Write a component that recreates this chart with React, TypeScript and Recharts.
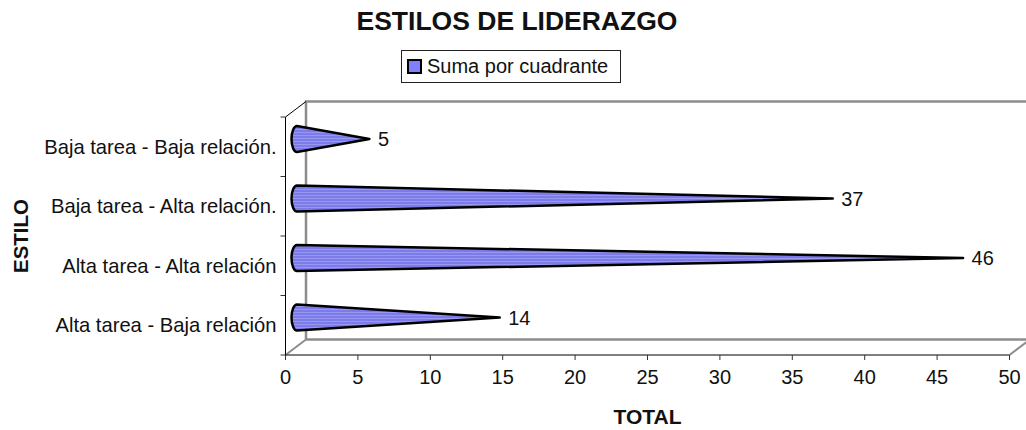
import { Bar, BarChart, LabelList, Legend, XAxis, YAxis, usePlotArea } from 'recharts'

const categories = [
  'Baja tarea - Baja relación.',
  'Baja tarea - Alta relación.',
  'Alta tarea - Alta relación',
  'Alta tarea - Baja relación',
]
const totals = [5, 37, 46, 14]
const xTicks = [0, 5, 10, 15, 20, 25, 30, 35, 40, 45, 50]
const seriesName = 'Suma por cuadrante'

const chartData = categories.map((estilo, i) => ({ estilo, total: totals[i] }))

const FONT = '"Liberation Sans", Arial, sans-serif'
const TEXT = '#111'
const DEPTH_X = 20.5
const DEPTH_Y = 15.5
// bars sit in the middle of the fake 3D depth
const BAR_DX = 11.5
const BAR_DY = -8

/** Back wall, floor and the y tick marks of the old Excel 3D look. */
function Frame() {
  const plot = usePlotArea()
  if (!plot) return null
  const { x, y, width, height } = plot
  const right = x + width
  const bottom = y + height
  const step = height / categories.length
  return (
    <g fill="none">
      <g stroke="#8c8c8c" strokeWidth={2.5}>
        <path d={`M${x + DEPTH_X} ${bottom - DEPTH_Y}V${y - DEPTH_Y}H${right + DEPTH_X}`} />
        <path d={`M${x + DEPTH_X} ${bottom - DEPTH_Y}H${right + DEPTH_X}`} />
        <path d={`M${x} ${bottom}L${x + DEPTH_X} ${bottom - DEPTH_Y}`} strokeWidth={2} />
        <path d={`M${right} ${bottom}L${right + DEPTH_X} ${bottom - DEPTH_Y}`} strokeWidth={2} />
      </g>
      <path d={`M${x} ${y}L${x + DEPTH_X} ${y - DEPTH_Y}`} stroke="#000" strokeWidth={1} />
      {categories.map((c, i) => (
        <path key={c} d={`M${x - 5} ${y + step * i}H${x}`} stroke="#333" strokeWidth={1} />
      ))}
      <path d={`M${x - 5} ${bottom}H${x}`} stroke="#333" strokeWidth={1} />
    </g>
  )
}

/** Cone lying on its side: elliptical base on the left, tip at the value. */
function Cone(props: any) {
  const { x, y, width, height } = props
  const cy = y + height / 2 + BAR_DY
  const baseX = x + BAR_DX
  const tipX = x + width + BAR_DX
  const r = height / 2
  return (
    <path
      d={`M${baseX} ${cy - r}A5.5 ${r} 0 0 0 ${baseX} ${cy + r}L${tipX} ${cy}Z`}
      fill="url(#coneStripes)"
      stroke="#000"
      strokeWidth={2.5}
      strokeLinejoin="round"
    />
  )
}

function ValueLabel(props: any) {
  const { x, y, width, height, value } = props
  return (
    <text
      x={x + width + BAR_DX + 8.5}
      y={y + height / 2 + BAR_DY + 7}
      fontFamily={FONT}
      fontSize={20}
      fill={TEXT}
    >
      {value}
    </text>
  )
}

function LegendBox() {
  return (
    <div
      style={{
        width: 220,
        height: 33,
        boxSizing: 'border-box',
        border: '1px solid #222',
        background: '#fff',
        display: 'flex',
        alignItems: 'center',
        fontFamily: FONT,
        fontSize: 20,
        color: TEXT,
      }}
    >
      <span
        style={{
          width: 11,
          height: 11,
          marginLeft: 5,
          marginRight: 5,
          border: '2px solid #000',
          background: '#8080ff',
        }}
      />
      {seriesName}
    </div>
  )
}

export default function App() {
  return (
    <div style={{ position: 'absolute', left: 0, top: 0, width: 1026, height: 430, overflow: 'hidden' }}>
      <BarChart
        width={1026}
        height={430}
        layout="vertical"
        data={chartData}
        margin={{ top: 117, right: 16.5, bottom: 30, left: 0 }}
        barSize={26}
      >
        <defs>
          <pattern id="coneStripes" width="4" height="3" patternUnits="userSpaceOnUse">
            <rect width="4" height="3" fill="#7b7bea" />
            <rect width="4" height="1" fill="#9898f2" />
          </pattern>
        </defs>
        <text x={517} y={30} textAnchor="middle" fontFamily={FONT} fontSize={26.5} fontWeight="bold" fill={TEXT}>
          ESTILOS DE LIDERAZGO
        </text>
        <Frame />
        <XAxis
          type="number"
          domain={[0, 50]}
          ticks={xTicks}
          interval={0}
          axisLine={{ stroke: '#555', strokeWidth: 1.5 }}
          tickLine={{ stroke: '#333' }}
          tickSize={5}
          tickMargin={10}
          tick={{ fontFamily: FONT, fontSize: 20, fill: TEXT }}
          height={45}
          label={{
            value: 'TOTAL',
            position: 'insideBottom',
            offset: -24,
            style: { fontFamily: FONT, fontSize: 21, fontWeight: 'bold', fill: TEXT },
          }}
        />
        <YAxis
          type="category"
          dataKey="estilo"
          width={285.5}
          interval={0}
          axisLine={{ stroke: '#000', strokeWidth: 1 }}
          tickLine={false}
          tickMargin={3}
          tick={{ fontFamily: FONT, fontSize: 20.2, fill: TEXT }}
          label={{
            value: 'ESTILO',
            angle: -90,
            position: 'insideLeft',
            offset: 21,
            style: { fontFamily: FONT, fontSize: 20.5, fontWeight: 'bold', fill: TEXT, textAnchor: 'middle' },
          }}
        />
        <Legend
          layout="horizontal"
          align="center"
          verticalAlign="middle"
          content={<LegendBox />}
          wrapperStyle={{ left: 401, top: 50, width: 220, height: 33 }}
        />
        <Bar dataKey="total" name={seriesName} shape={<Cone />} isAnimationActive={false}>
          <LabelList dataKey="total" content={<ValueLabel />} />
        </Bar>
      </BarChart>
    </div>
  )
}
